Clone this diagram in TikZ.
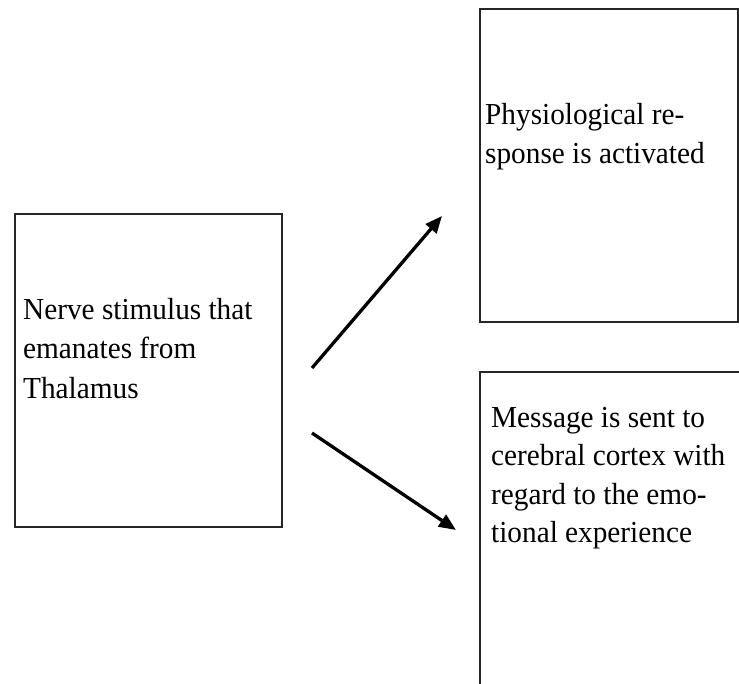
\documentclass[tikz,border=0pt]{standalone}
\usepackage{fontspec}
\setmainfont[FakeStretch=0.96]{Liberation Serif}
\usetikzlibrary{arrows.meta}
\begin{document}
\begin{tikzpicture}[x=1pt,y=-1pt,
  box/.style={draw=black!85, line width=1.8pt, inner sep=0pt, outer sep=0pt},
  txt/.style={anchor=north west, inner sep=0pt, align=left, font=\fontsize{30.5}{39.5}\selectfont},
  txtb/.style={txt, font=\fontsize{30.5}{38.5}\selectfont},
  conn/.style={line width=3.3pt, -{Triangle[length=17pt,width=14pt]}}]
\useasboundingbox (0,0) rectangle (739,684);
\clip (0,0) rectangle (739,684);
% boxes
\node[box, minimum width=267pt, minimum height=313pt] (stim) at (148.5,370.5) {};
\node[box, minimum width=258pt, minimum height=313pt] (phys) at (609,165.5) {};
\node[box, minimum width=280pt, minimum height=328pt] (msg) at (620,536) {};
% texts
\node[txt] (stimtext) at (23,298) {Nerve stimulus that\\emanates from\\Thalamus};
\node[txt, font=\fontsize{30.5}{39}\selectfont] (phystext) at (485,103) {Physiological re-\\sponse is activated};
\node[txtb] (msgtext) at (491,407) {Message is sent to\\cerebral cortex with\\regard to the emo-\\tional experience};
% connectors
\coordinate (a1s) at (312,368);
\coordinate (a1e) at (442,216);
\coordinate (a2s) at (312,433);
\coordinate (a2e) at (456,530);
\draw[conn] (a1s) -- (a1e);
\draw[conn] (a2s) -- (a2e);
\end{tikzpicture}
\end{document}
